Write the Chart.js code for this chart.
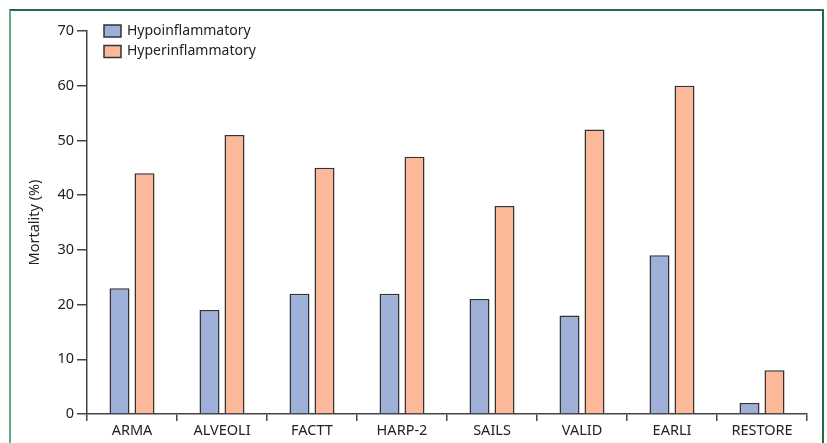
<!DOCTYPE html>
<html>
<head>
<meta charset="utf-8">
<script src="https://cdn.jsdelivr.net/npm/chart.js@4"></script>
<style>
  body { margin: 0; background: #fff; }
  #frame {
    position: absolute; left: 9px; top: 9px; width: 811px; height: 460px;
    border-top: 2px solid #1f6e43; border-left: 2px solid #5aae7c; border-right: 2px solid #1f6e43;
  }
  #wrap { position: absolute; left: 0; top: 0; width: 827px; height: 443px; }
</style>
</head>
<body>
<div id="frame"></div>
<div id="wrap"><canvas id="mortalityBar"></canvas></div>
<script>
const trials = ["ARMA", "ALVEOLI", "FACTT", "HARP-2", "SAILS", "VALID", "EARLI", "RESTORE"];
const hypoMortality = [23, 19, 22, 22, 21, 18, 29, 2];
const hyperMortality = [44, 51, 45, 47, 38, 52, 60, 8];
const yTicks = [0, 10, 20, 30, 40, 50, 60, 70];

const fontFamily = "'Noto Sans', 'DejaVu Sans', sans-serif";
const axisColor = "#444";

// legend drawn at top-left inside the plot, stacked
const boxLegend = {
  id: "boxLegend",
  afterDraw(chart) {
    const ctx = chart.ctx;
    ctx.save();
    ctx.font = "14px " + fontFamily;
    ctx.textBaseline = "middle";
    chart.data.datasets.forEach((ds, i) => {
      const y = 25 + i * 20.5;
      ctx.fillStyle = ds.backgroundColor;
      ctx.strokeStyle = ds.borderColor;
      ctx.lineWidth = 1.5;
      ctx.fillRect(104, y, 17, 12);
      ctx.strokeRect(104, y, 17, 12);
      ctx.fillStyle = "#222";
      ctx.fillText(ds.label, 127, y + 6);
    });
    ctx.restore();
  },
};

const mortalityData = {
  labels: trials,
  datasets: [
    {
      label: "Hypoinflammatory",
      data: hypoMortality,
      backgroundColor: "#9eafd8",
      borderColor: "#333",
      borderWidth: 1.5,
      borderSkipped: "bottom",
    },
    {
      label: "Hyperinflammatory",
      data: hyperMortality,
      backgroundColor: "#fbb99a",
      borderColor: "#333",
      borderWidth: 1.5,
      borderSkipped: "bottom",
    },
  ],
};

const mortalityConfig = {
  type: "bar",
  data: mortalityData,
  plugins: [boxLegend],
  options: {
    responsive: true,
    maintainAspectRatio: false,
    animation: false,
    datasets: {
      bar: { categoryPercentage: 50 / 90, barPercentage: 0.8 },
    },
    layout: { padding: { left: 0, top: 31, right: 20, bottom: 0 } },
    plugins: {
      legend: { display: false },
      tooltip: { enabled: false },
    },
    scales: {
      x: {
        grid: { drawOnChartArea: false, offset: true, color: axisColor, lineWidth: 1.5, tickLength: 7 },
        border: { color: axisColor, width: 1.5 },
        ticks: { color: "#222", font: { family: fontFamily, size: 14.5 }, padding: 1, maxRotation: 0 },
        afterFit(scale) { scale.height = 29; },
      },
      y: {
        min: 0,
        max: 70,
        afterBuildTicks(scale) { scale.ticks = yTicks.map((v) => ({ value: v })); },
        grid: { drawOnChartArea: false, color: axisColor, lineWidth: 1.5, tickLength: 10 },
        border: { color: axisColor, width: 1.5 },
        ticks: { color: "#222", font: { family: fontFamily, size: 14.5 }, padding: 3 },
        title: {
          display: true,
          text: "Mortality (%)",
          color: "#222",
          font: { family: fontFamily, size: 14.5 },
          padding: { top: 26, bottom: 0 },
        },
        afterFit(scale) { scale.width = 87; },
      },
    },
  },
};

const mortalityChart = new Chart(document.getElementById("mortalityBar"), mortalityConfig);
</script>
</body>
</html>
